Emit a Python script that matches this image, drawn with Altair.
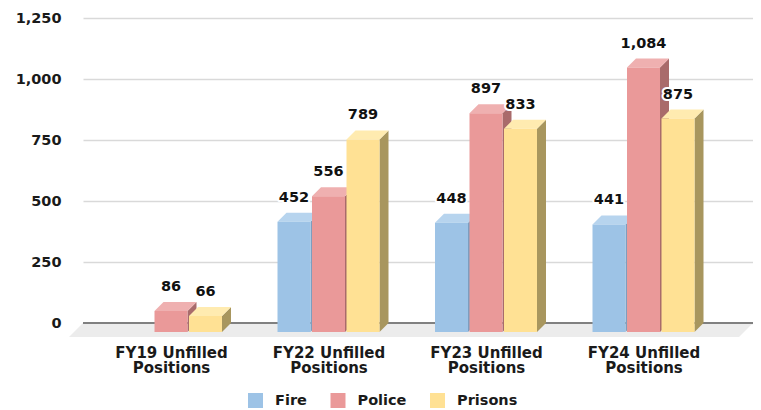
import json
import altair as alt
import pandas as pd

# ---------------- data ----------------
categories = ["FY19 Unfilled Positions", "FY22 Unfilled Positions",
              "FY23 Unfilled Positions", "FY24 Unfilled Positions"]
series = ["Fire", "Police", "Prisons"]
fire = [None, 452, 448, 441]
police = [86, 556, 897, 1084]
prisons = [66, 789, 833, 875]
y_ticks = [0, 250, 500, 750, 1000, 1250]

# ---------------- styling / layout ----------------
FRONT = ["#9DC3E6", "#EA9999", "#FFE194"]
TOPC = ["#B7D4EE", "#EFB0B0", "#FFEBB0"]
SIDE = ["#7E9DBE", "#A96B6B", "#A8965E"]
FONT = "DejaVu Sans"
W, H = 670, 305
STEP = 157.5                      # px per category
X0 = -88 / STEP                   # domain start (group units)
XMAX = X0 + W / STEP
YMAX = 1250
BAR_SP = 34.5 / STEP
BAR_W = 33 / STEP
DX = 9 / STEP                     # 3D depth, x
DY = 9 * YMAX / H                 # 3D depth, y
FDX = 14 / STEP                   # floor depth
FDY = 14 * YMAX / H

vals = {"Fire": fire, "Police": police, "Prisons": prisons}
front_rows, top_rows, side_rows = [], [], []
for g, cat in enumerate(categories):
    for s, ser in enumerate(series):
        v = vals[ser][g]
        if v is None:
            continue
        xc = g + (s - 1) * BAR_SP
        xl, xr = xc - BAR_W / 2, xc + BAR_W / 2
        bid = f"b{g}{s}"
        front_rows.append(dict(series=ser, category=cat, value=v, xc=xc,
                               xl=xl, xr=xr, top=v - DY, base=-DY))
        for k, (x, y, y2) in enumerate([(xl, v - DY, v - DY), (xl + DX, v, v - DY),
                                        (xr, v, v - DY), (xr + DX, v, v)]):
            top_rows.append(dict(bid=bid, series=ser, k=k, px=x, py=y, py2=y2))
        for k, (x, y, y2) in enumerate([(xr, v - DY, -DY), (xr + DX, v, 0)]):
            side_rows.append(dict(bid=bid, series=ser, k=k, px=x, py=y, py2=y2))

front_df = pd.DataFrame(front_rows)
top_df = pd.DataFrame(top_rows)
side_df = pd.DataFrame(side_rows)
floor_df = pd.DataFrame(dict(
    k=[0, 1, 2, 3],
    px=[X0 - FDX, X0, XMAX - FDX, XMAX],
    py=[-FDY, 0, 0, 0],
    py2=[-FDY, -FDY, -FDY, 0],
))
zero_df = pd.DataFrame(dict(px=[X0], px2=[XMAX], z=[0]))

xs = alt.Scale(domain=[X0, XMAX], nice=False, zero=False)
ys = alt.Scale(domain=[0, YMAX], nice=False, zero=False)

label_arr = json.dumps([c.rsplit(" ", 1) for c in categories])

x_axis = alt.Axis(values=[0, 1, 2, 3], labelExpr=f"{label_arr}[datum.value]",
                  domain=False, ticks=False, grid=False, labelFont=FONT,
                  labelFontSize=15, labelFontWeight="bold", labelColor="#1a1a1a",
                  labelPadding=22, labelLineHeight=15.5, labelOverlap=False,
                  labelBound=False, labelFlush=False, title=None)
y_axis = alt.Axis(values=y_ticks, labelExpr="format(datum.value, ',')",
                  domain=False, ticks=False,
                  grid=True, gridColor="#D9D9D9", gridWidth=1.5,
                  labelFont=FONT, labelFontSize=14.5, labelFontWeight="bold",
                  labelColor="#1a1a1a", labelPadding=22, title=None)


def X(f):
    return alt.X(f, scale=xs, axis=x_axis, title=None)


def Y(f):
    return alt.Y(f, scale=ys, axis=y_axis, title=None)


floor = alt.Chart(floor_df).mark_area(color="#ECECEC").encode(
    x=X("px:Q"), y=Y("py:Q"), y2="py2:Q",
)

zero_rule = alt.Chart(zero_df).mark_rule(color="#808080", strokeWidth=2).encode(
    x=X("px:Q"), x2="px2:Q", y=Y("z:Q"),
)

side = alt.Chart(side_df).mark_area().encode(
    x=X("px:Q"), y=Y("py:Q"), y2="py2:Q",
    detail="bid:N",
    color=alt.Color("series:N", scale=alt.Scale(domain=series, range=SIDE), legend=None),
)

top = alt.Chart(top_df).mark_area().encode(
    x=X("px:Q"), y=Y("py:Q"), y2="py2:Q",
    detail="bid:N",
    color=alt.Color("series:N", scale=alt.Scale(domain=series, range=TOPC), legend=None),
)

front = alt.Chart(front_df).mark_rect().encode(
    x=X("xl:Q"), x2="xr:Q", y=Y("top:Q"), y2="base:Q",
    color=alt.Color("series:N", scale=alt.Scale(domain=series, range=FRONT),
                    legend=alt.Legend(orient="none", legendX=165, legendY=375,
                                      direction="horizontal", title=None,
                                      symbolType="square", symbolSize=225,
                                      symbolStrokeWidth=0, symbolOpacity=1,
                                      labelFont=FONT, labelFontSize=14.5,
                                      labelFontWeight="bold", labelColor="#1a1a1a",
                                      labelOffset=12, columnPadding=23.5, padding=0)),
)

halo = alt.Chart(front_df).mark_text(
    font=FONT, fontSize=14.5, fontWeight="bold", dy=-15, baseline="middle",
    color="white", stroke="white", strokeWidth=4, strokeJoin="round",
).encode(
    x=X("xc:Q"), y=Y("value:Q"),
    text=alt.Text("value:Q", format=","),
)

labels = alt.Chart(front_df).mark_text(
    font=FONT, fontSize=14.5, fontWeight="bold", dy=-15, baseline="middle",
    color="#111111",
).encode(
    x=X("xc:Q"), y=Y("value:Q"),
    text=alt.Text("value:Q", format=","),
)

chart = alt.layer(floor, zero_rule, side, top, front, halo, labels).resolve_scale(
    color="independent"
).properties(
    width=W, height=H,
    autosize=alt.AutoSizeParams(type="none"),
    padding={"left": 75, "top": 10, "right": 0, "bottom": 86},
    background="white",
).configure_view(stroke=None)

chart.save("out.html", embed_options={"renderer": "svg", "actions": False})
